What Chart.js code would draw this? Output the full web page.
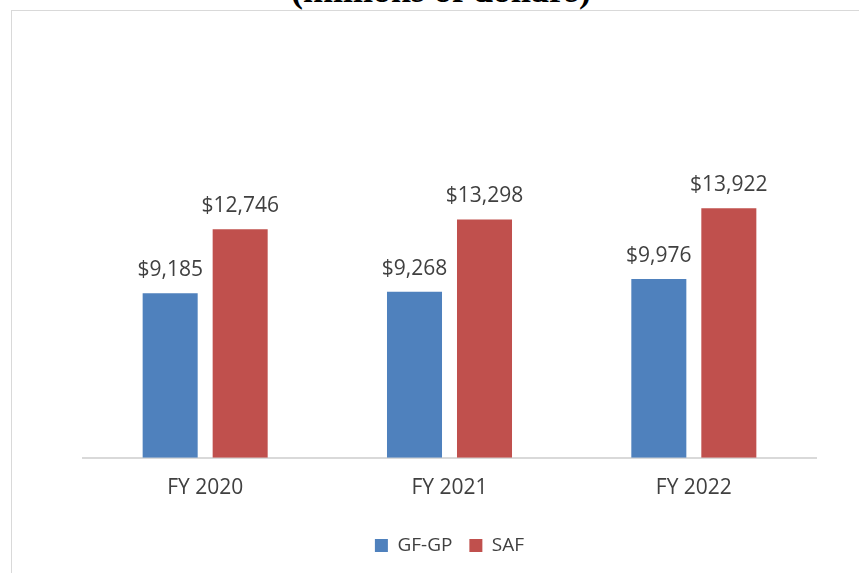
<!DOCTYPE html>
<html>
<head>
<meta charset="utf-8">
<script src="https://cdn.jsdelivr.net/npm/chart.js@4.4.1/dist/chart.umd.min.js"></script>
<style>
    html, body { margin: 0; padding: 0; background: #fff; overflow: hidden; }
    body { width: 859px; height: 573px; position: relative; }
    #title {
        position: absolute; left: 0; width: 882px; top: -31px; line-height: 36px;
        text-align: center; font: bold 36px "Liberation Serif", "Times New Roman", serif; color: #000;
    }
    #frame {
        position: absolute; left: 11px; top: 10px; width: 900px; height: 600px;
        border: 1px solid #d9d9d9; box-sizing: border-box;
    }
    #wrap { position: absolute; left: 0; top: 0; width: 859px; height: 573px; }
</style>
</head>
<body>
<div id="title">(millions of dollars)</div>
<div id="frame"></div>
<div id="wrap"><canvas id="fundChart"></canvas></div>
<script>
// Chart data
const years = ['FY 2020', 'FY 2021', 'FY 2022'];
const gfgp = [9185, 9268, 9976];
const saf = [12746, 13298, 13922];

const textColor = '#404040';
const fontFamily = '"Open Sans", "Noto Sans", sans-serif';

// Draws the "$x,xxx" labels above each bar
const valueLabels = {
    id: 'valueLabels',
    afterDatasetsDraw(chart) {
        const ctx = chart.ctx;
        ctx.save();
        ctx.font = '21px ' + fontFamily;
        ctx.fillStyle = textColor;
        ctx.textAlign = 'center';
        ctx.textBaseline = 'alphabetic';
        chart.data.datasets.forEach((ds, i) => {
            chart.getDatasetMeta(i).data.forEach((bar, j) => {
                ctx.fillText('$' + ds.data[j].toLocaleString('en-US'), bar.x, bar.y - 17);
            });
        });
        ctx.restore();
    }
};

new Chart(document.getElementById('fundChart'), {
    type: 'bar',
    data: {
        labels: years,
        datasets: [
            { label: 'GF-GP', data: gfgp, backgroundColor: '#4f81bd' },
            { label: 'SAF', data: saf, backgroundColor: '#c0504d' }
        ]
    },
    options: {
        responsive: true,
        maintainAspectRatio: false,
        animation: false,
        categoryPercentage: 0.573,
        barPercentage: 0.786,
        layout: { padding: { left: 83, right: 43, top: 171, bottom: 8 } },
        plugins: {
            legend: {
                position: 'bottom',
                labels: {
                    boxWidth: 13, boxHeight: 13,
                    color: textColor,
                    font: { family: fontFamily, size: 19 },
                    padding: 17
                }
            },
            tooltip: { enabled: false }
        },
        scales: {
            x: {
                grid: { display: false, drawTicks: false },
                border: { color: '#d9d9d9', width: 2 },
                ticks: { color: textColor, font: { family: fontFamily, size: 21 }, padding: 18 }
            },
            y: {
                display: false,
                min: 0,
                max: 16000
            }
        }
    },
    plugins: [valueLabels]
});
</script>
</body>
</html>
